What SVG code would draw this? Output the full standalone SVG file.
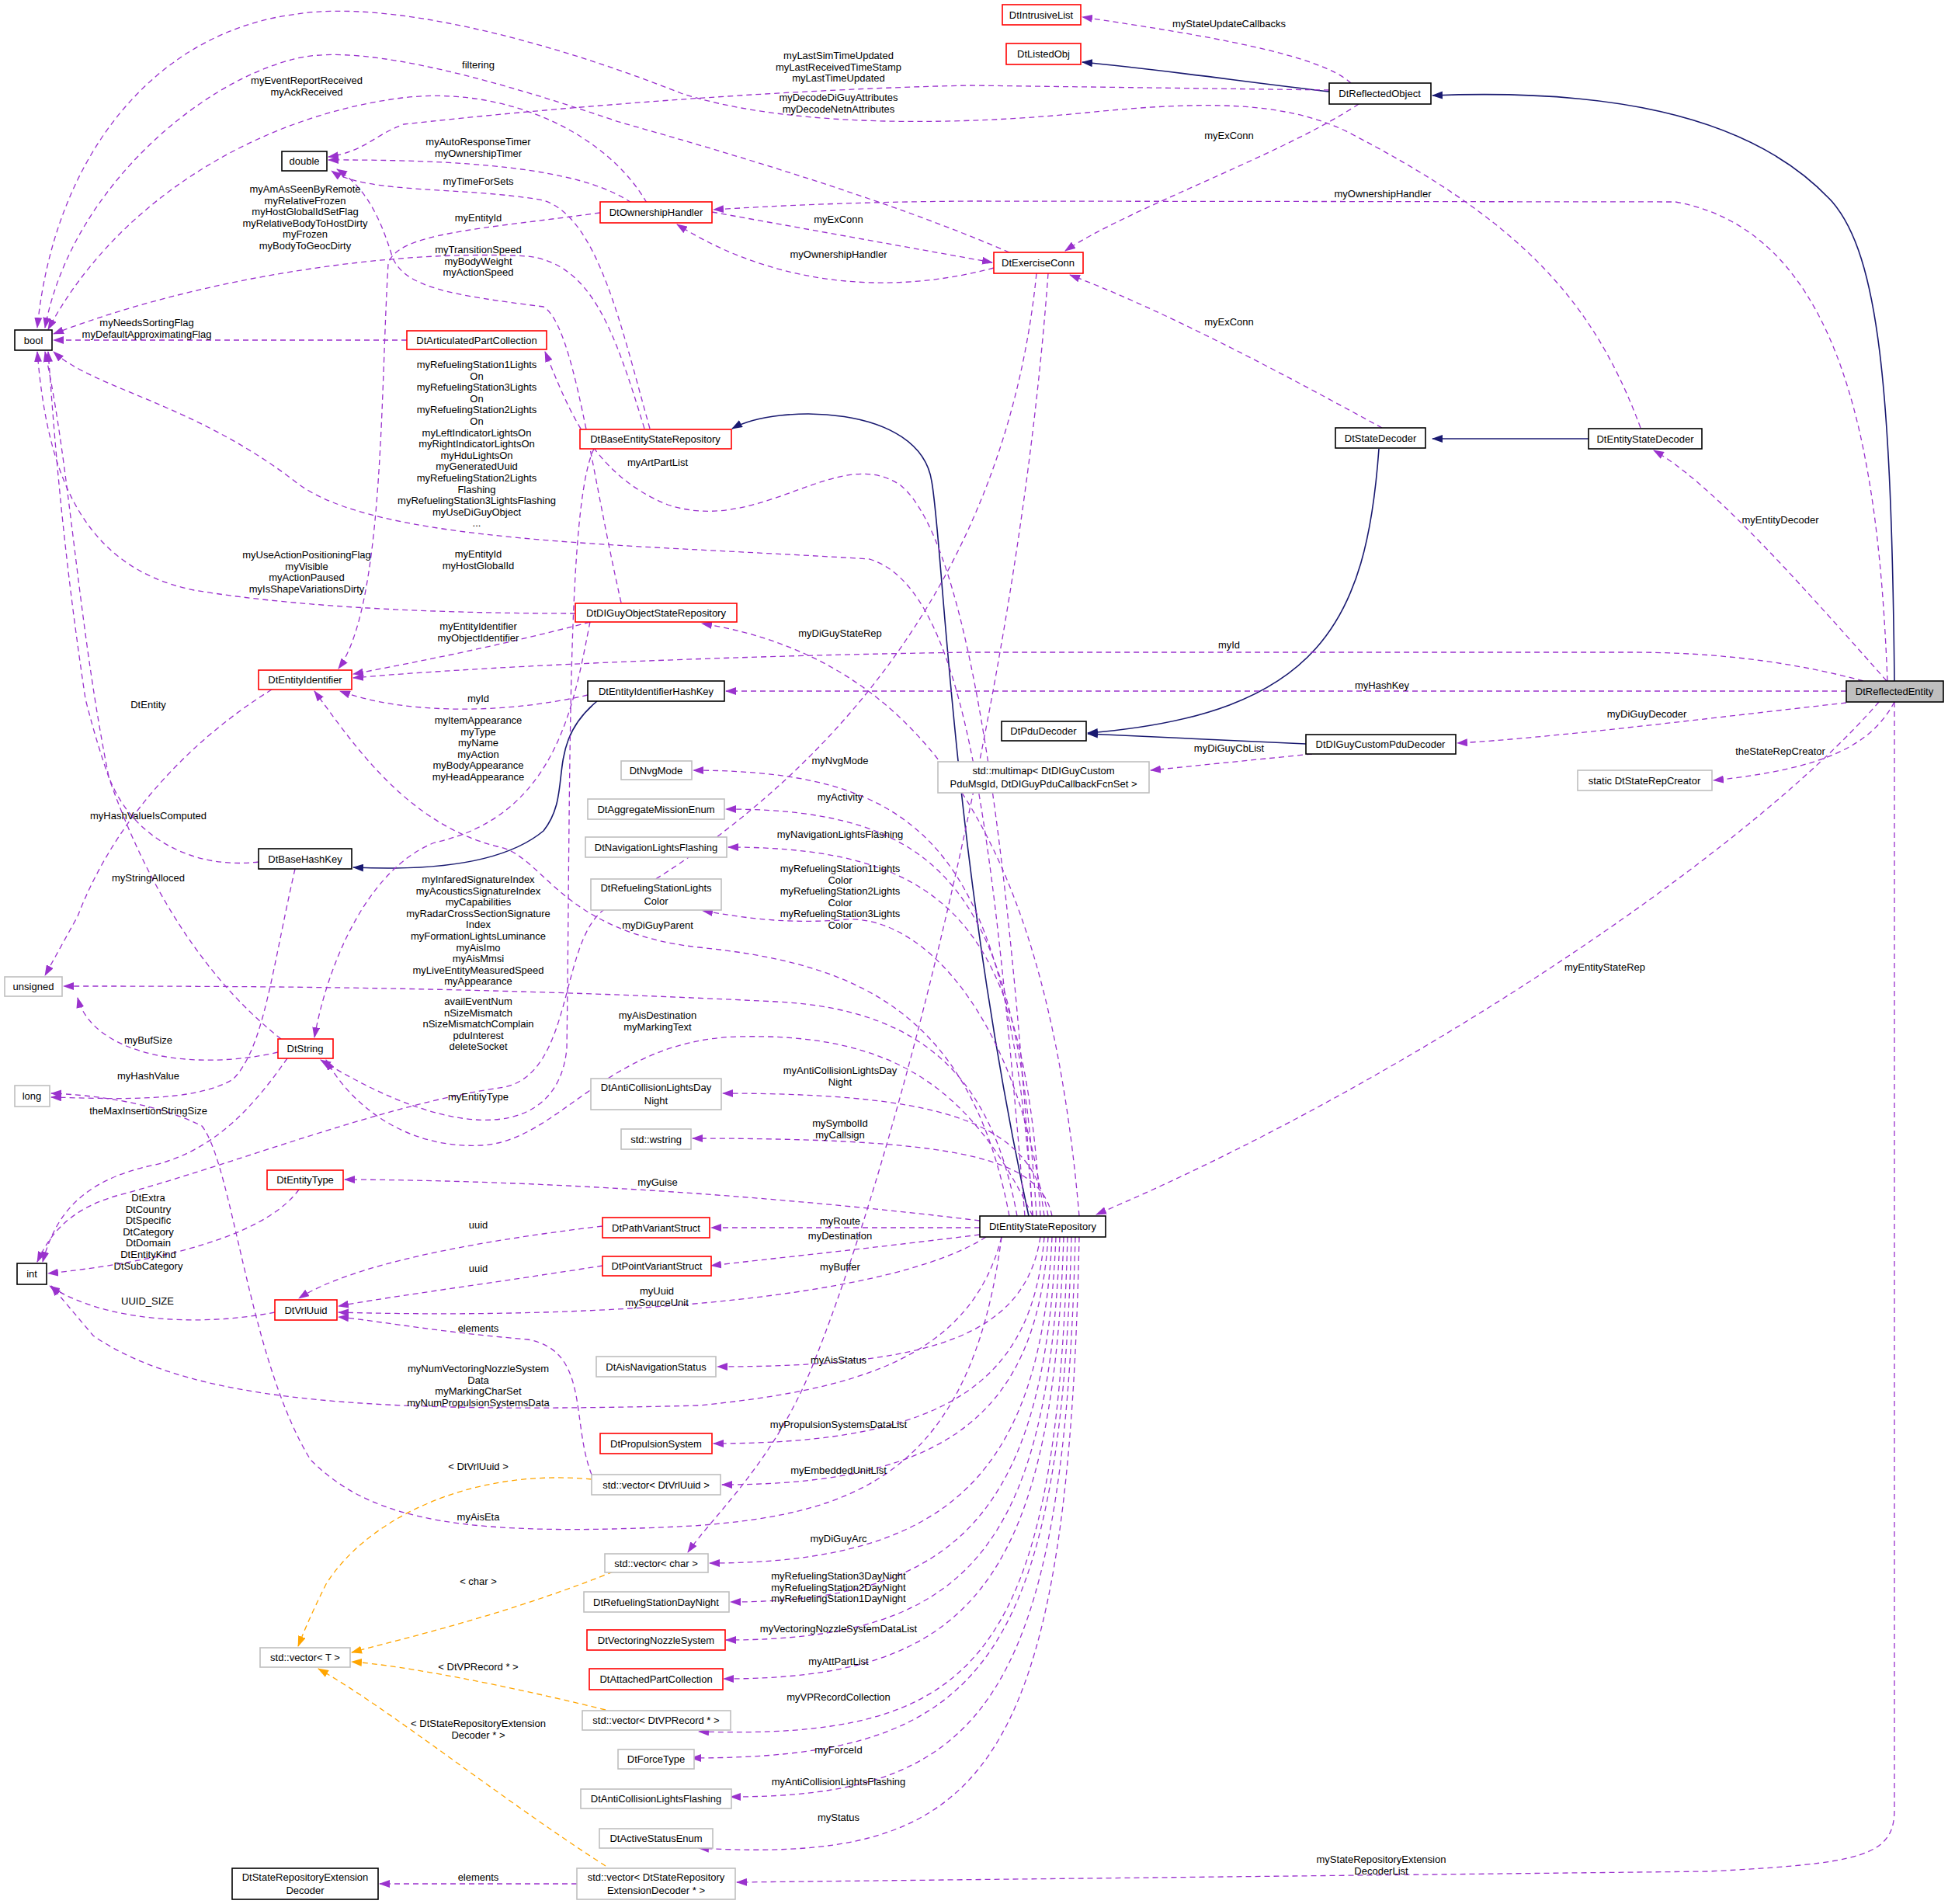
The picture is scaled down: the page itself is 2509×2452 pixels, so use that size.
<svg xmlns="http://www.w3.org/2000/svg" width="2509" height="2452" viewBox="0 0 2509 2452">
<style>
text{font-family:"Liberation Sans",Arial,sans-serif;font-size:13px;fill:#000}
.n text{text-anchor:middle}
.l{text-anchor:middle}
rect{fill:#fff;stroke-width:1.6}
.k rect{stroke:#000}
.r rect{stroke:#f00}
.g rect{stroke:#bfbfbf}
.e rect{stroke:#000;fill:#bfbfbf}
.p{fill:none;stroke:#9a32cd;stroke-width:1.3;stroke-dasharray:7,5;marker-end:url(#mp)}
.o{fill:none;stroke:#ffa500;stroke-width:1.3;stroke-dasharray:7,5;marker-end:url(#mo)}
.b{fill:none;stroke:#191970;stroke-width:1.6;marker-end:url(#mb)}
</style>
<defs>
<marker id="mp" markerWidth="14" markerHeight="10" refX="13" refY="5" orient="auto" markerUnits="userSpaceOnUse"><path d="M0,0 L14,5 L0,10 z" fill="#9a32cd"/></marker>
<marker id="mo" markerWidth="14" markerHeight="10" refX="13" refY="5" orient="auto" markerUnits="userSpaceOnUse"><path d="M0,0 L14,5 L0,10 z" fill="#ffa500"/></marker>
<marker id="mb" markerWidth="14" markerHeight="10" refX="13" refY="5" orient="auto" markerUnits="userSpaceOnUse"><path d="M0,0 L14,5 L0,10 z" fill="#191970"/></marker>
</defs>
<rect x="0" y="0" width="2509" height="2452" style="fill:#fff;stroke:none"/>
<g id="edges">
<path class="b" d="M2440,877 C2436,500 2420,330 2360,260 C2250,140 2050,115 1845,123"/>
<path class="b" d="M1712,118 C1600,105 1500,90 1394,80"/>
<path class="b" d="M2046,565 L1845,565"/>
<path class="b" d="M1776,578 C1760,800 1700,920 1401,944"/>
<path class="b" d="M1682,958 L1401,945"/>
<path class="b" d="M1325,1566 C1225,1100 1215,700 1200,620 C1185,520 1000,520 943,552"/>
<path class="b" d="M769,903 C700,960 740,1020 700,1070 C640,1120 520,1120 455,1117"/>
<path class="o" d="M762,1905 C600,1890 470,1960 420,2040 C400,2080 392,2100 384,2120"/>
<path class="o" d="M790,2024 C650,2080 520,2110 453,2128"/>
<path class="o" d="M780,2202 C650,2170 520,2145 453,2140"/>
<path class="o" d="M780,2403 C650,2320 500,2200 410,2149"/>
<path class="p" d="M1740,107 C1700,70 1550,45 1394,22"/>
<path class="p" d="M1750,134 C1650,200 1450,270 1372,323"/>
<path class="p" d="M1712,116 L1250,110 C1000,115 700,140 520,160 C480,175 470,195 423,202"/>
<path class="p" d="M2113,551 C2050,380 1950,280 1732,168 C1650,130 1550,130 1400,145 C1200,165 1000,160 877,120 C700,50 500,0 383,18 C200,40 70,200 48,422"/>
<path class="p" d="M1300,325 C1150,260 950,200 797,157 C600,90 450,55 375,77 C250,110 90,250 58,422"/>
<path class="p" d="M833,261 C780,170 650,110 518,126 C330,150 150,260 62,424"/>
<path class="p" d="M813,261 C760,225 650,205 423,206"/>
<path class="p" d="M837,552 C800,420 770,280 700,258 C600,240 470,250 427,220"/>
<path class="p" d="M800,776 C760,600 740,420 700,395 C580,380 520,370 505,330 C490,280 470,240 434,218"/>
<path class="p" d="M917,273 L1278,338"/>
<path class="p" d="M1280,345 C1150,380 1000,370 872,289"/>
<path class="p" d="M773,274 C620,295 510,300 500,340 C490,500 495,780 436,861"/>
<path class="p" d="M830,552 C790,420 760,340 680,330 C500,320 250,360 69,430"/>
<path class="p" d="M524,438 L69,438"/>
<path class="p" d="M1330,1566 C1300,1100 1250,700 1160,625 C1080,570 980,690 860,650 C760,610 730,520 702,453"/>
<path class="p" d="M1320,1566 C1280,1100 1250,760 1120,720 C800,700 480,700 380,620 C250,520 120,500 69,453"/>
<path class="p" d="M741,790 C600,790 400,785 250,760 C100,730 60,600 48,453"/>
<path class="p" d="M760,801 C650,830 550,850 455,868"/>
<path class="p" d="M757,895 C650,920 520,920 438,890"/>
<path class="p" d="M2400,877 C2300,850 2200,840 2100,840 L1250,840 C900,845 600,860 455,873"/>
<path class="p" d="M2378,890 L935,890"/>
<path class="p" d="M2378,905 C2200,925 2000,950 1877,957"/>
<path class="p" d="M1690,971 C1600,980 1550,985 1482,992"/>
<path class="p" d="M2440,904 C2410,960 2350,990 2207,1005"/>
<path class="p" d="M2430,877 C2300,730 2200,620 2130,580"/>
<path class="p" d="M2431,877 C2420,600 2380,300 2158,260 L1250,259 C1100,260 1000,265 919,270"/>
<path class="p" d="M2420,904 C2250,1100 1800,1400 1412,1564"/>
<path class="p" d="M2440,904 L2440,2330 C2440,2390 2400,2400 2200,2410 L949,2424"/>
<path class="p" d="M1780,551 C1650,480 1500,400 1378,354"/>
<path class="p" d="M1335,352 C1290,800 1000,1050 780,1170 C720,1210 740,1380 650,1400 C500,1420 300,1500 150,1540 C80,1560 60,1600 48,1625"/>
<path class="p" d="M1350,352 C1310,900 1150,1500 1050,1750 C1000,1880 920,1950 886,1999"/>
<path class="p" d="M350,888 C250,950 150,1050 100,1180 L58,1256"/>
<path class="p" d="M333,1110 C250,1120 170,1080 140,1000 C100,800 90,600 58,453"/>
<path class="p" d="M380,1119 C350,1250 340,1350 300,1390 C250,1420 150,1415 66,1413"/>
<path class="p" d="M362,1338 C250,1250 160,1100 110,900 C80,700 70,560 62,453"/>
<path class="p" d="M358,1355 C250,1380 120,1360 100,1285"/>
<path class="p" d="M370,1363 C330,1420 280,1480 200,1500 C100,1520 70,1570 55,1625"/>
<path class="p" d="M385,1532 C350,1580 250,1620 62,1640"/>
<path class="p" d="M354,1690 C250,1710 130,1700 64,1656"/>
<path class="p" d="M776,1579 C600,1600 450,1630 385,1672"/>
<path class="p" d="M776,1630 C650,1650 500,1670 436,1682"/>
<path class="p" d="M762,1899 C735,1830 760,1740 680,1725 C560,1715 480,1700 436,1696"/>
<path class="p" d="M743,2426 L489,2426"/>
<path class="p" d="M1290,1593 C1250,1750 1100,1790 900,1810 C500,1820 250,1810 120,1720 L66,1656"/>
<path class="p" d="M1270,1593 C1150,1670 800,1700 436,1690"/>
<path class="p" d="M1310,1566 C1280,1400 1200,1300 1000,1290 C600,1270 300,1270 82,1270"/>
<path class="p" d="M1390,1566 C1350,1100 1200,850 904,803"/>
<path class="p" d="M1300,1566 C1250,1300 1100,1240 900,1220 C720,1200 700,1100 640,1090 C520,1060 450,950 405,890"/>
<path class="p" d="M765,578 C730,650 735,1000 730,1350 C720,1460 600,1480 413,1365"/>
<path class="p" d="M760,801 C740,900 720,1050 560,1085 C470,1120 420,1250 405,1336"/>
<path class="p" d="M1330,1566 C1250,1400 1150,1330 950,1335 C780,1340 720,1470 620,1475 C520,1480 450,1420 420,1365"/>
<path class="p" d="M1262,1572 C1000,1540 700,1520 444,1519"/>
<path class="p" d="M1290,1593 C1250,1900 1100,1950 893,1965 C600,1980 480,1960 400,1880 C320,1750 300,1500 260,1450 C200,1420 120,1410 66,1408"/>
<path class="p" d="M1330,1566 C1300,1100 1200,993 893,992"/>
<path class="p" d="M1335,1566 C1310,1150 1220,1042 935,1042"/>
<path class="p" d="M1340,1566 C1320,1200 1230,1091 938,1091"/>
<path class="p" d="M1345,1566 C1310,1300 1180,1170 1080,1185 C1000,1190 950,1180 905,1173"/>
<path class="p" d="M1350,1566 C1330,1450 1230,1408 931,1408"/>
<path class="p" d="M1355,1566 C1340,1490 1230,1466 892,1466"/>
<path class="p" d="M1262,1581 L916,1581"/>
<path class="p" d="M1262,1590 C1100,1610 1000,1620 916,1630"/>
<path class="p" d="M1340,1593 C1320,1720 1200,1760 924,1760"/>
<path class="p" d="M1345,1593 C1330,1780 1220,1859 919,1859"/>
<path class="p" d="M1350,1593 C1335,1820 1220,1912 930,1912"/>
<path class="p" d="M1355,1593 C1340,1900 1220,2013 914,2013"/>
<path class="p" d="M1360,1593 C1345,1950 1230,2063 941,2063"/>
<path class="p" d="M1365,1593 C1350,2000 1240,2112 935,2112"/>
<path class="p" d="M1370,1593 C1355,2050 1240,2162 932,2162"/>
<path class="p" d="M1375,1593 C1360,2150 1250,2240 900,2230"/>
<path class="p" d="M1380,1593 C1365,2160 1250,2264 890,2264"/>
<path class="p" d="M1385,1593 C1370,2200 1260,2314 941,2314"/>
<path class="p" d="M1390,1593 C1375,2300 1260,2400 900,2380"/>
</g>
<g id="labels">
<text class="l" x="1583" y="35">myStateUpdateCallbacks</text>
<text class="l" x="1583" y="179">myExConn</text>
<text class="l" x="1781" y="254">myOwnershipHandler</text>
<text class="l" x="1583" y="419">myExConn</text>
<text class="l" x="2293" y="674">myEntityDecoder</text>
<text class="l" x="1583" y="835">myId</text>
<text class="l" x="1780" y="887">myHashKey</text>
<text class="l" x="2121" y="924">myDiGuyDecoder</text>
<text class="l" x="1583" y="968">myDiGuyCbList</text>
<text class="l" x="2293" y="972">theStateRepCreator</text>
<text class="l" x="2067" y="1250">myEntityStateRep</text>
<text class="l" x="1779" y="2399">myStateRepositoryExtension<tspan x="1779" dy="14.6">DecoderList</tspan></text>
<text class="l" x="616" y="88">filtering</text>
<text class="l" x="395" y="108">myEventReportReceived<tspan x="395" dy="14.6">myAckReceived</tspan></text>
<text class="l" x="1080" y="76">myLastSimTimeUpdated<tspan x="1080" dy="14.6">myLastReceivedTimeStamp</tspan><tspan x="1080" dy="14.6">myLastTimeUpdated</tspan></text>
<text class="l" x="1080" y="130">myDecodeDiGuyAttributes<tspan x="1080" dy="14.6">myDecodeNetnAttributes</tspan></text>
<text class="l" x="616" y="187">myAutoResponseTimer<tspan x="616" dy="14.6">myOwnershipTimer</tspan></text>
<text class="l" x="616" y="238">myTimeForSets</text>
<text class="l" x="393" y="248">myAmAsSeenByRemote<tspan x="393" dy="14.6">myRelativeFrozen</tspan><tspan x="393" dy="14.6">myHostGlobalIdSetFlag</tspan><tspan x="393" dy="14.6">myRelativeBodyToHostDirty</tspan><tspan x="393" dy="14.6">myFrozen</tspan><tspan x="393" dy="14.6">myBodyToGeocDirty</tspan></text>
<text class="l" x="616" y="285">myEntityId</text>
<text class="l" x="1080" y="287">myExConn</text>
<text class="l" x="616" y="326">myTransitionSpeed<tspan x="616" dy="14.6">myBodyWeight</tspan><tspan x="616" dy="14.6">myActionSpeed</tspan></text>
<text class="l" x="1080" y="332">myOwnershipHandler</text>
<text class="l" x="189" y="420">myNeedsSortingFlag<tspan x="189" dy="14.6">myDefaultApproximatingFlag</tspan></text>
<text class="l" x="614" y="474">myRefuelingStation1Lights<tspan x="614" dy="14.6">On</tspan><tspan x="614" dy="14.6">myRefuelingStation3Lights</tspan><tspan x="614" dy="14.6">On</tspan><tspan x="614" dy="14.6">myRefuelingStation2Lights</tspan><tspan x="614" dy="14.6">On</tspan><tspan x="614" dy="14.6">myLeftIndicatorLightsOn</tspan><tspan x="614" dy="14.6">myRightIndicatorLightsOn</tspan><tspan x="614" dy="14.6">myHduLightsOn</tspan><tspan x="614" dy="14.6">myGeneratedUuid</tspan><tspan x="614" dy="14.6">myRefuelingStation2Lights</tspan><tspan x="614" dy="14.6">Flashing</tspan><tspan x="614" dy="14.6">myRefuelingStation3LightsFlashing</tspan><tspan x="614" dy="14.6">myUseDiGuyObject</tspan><tspan x="614" dy="14.6">...</tspan></text>
<text class="l" x="847" y="600">myArtPartList</text>
<text class="l" x="395" y="719">myUseActionPositioningFlag<tspan x="395" dy="14.6">myVisible</tspan><tspan x="395" dy="14.6">myActionPaused</tspan><tspan x="395" dy="14.6">myIsShapeVariationsDirty</tspan></text>
<text class="l" x="616" y="718">myEntityId<tspan x="616" dy="14.6">myHostGlobalId</tspan></text>
<text class="l" x="1082" y="820">myDiGuyStateRep</text>
<text class="l" x="616" y="811">myEntityIdentifier<tspan x="616" dy="14.6">myObjectIdentifier</tspan></text>
<text class="l" x="191" y="912">DtEntity</text>
<text class="l" x="616" y="904">myId</text>
<text class="l" x="616" y="932">myItemAppearance<tspan x="616" dy="14.6">myType</tspan><tspan x="616" dy="14.6">myName</tspan><tspan x="616" dy="14.6">myAction</tspan><tspan x="616" dy="14.6">myBodyAppearance</tspan><tspan x="616" dy="14.6">myHeadAppearance</tspan></text>
<text class="l" x="191" y="1055">myHashValueIsComputed</text>
<text class="l" x="191" y="1135">myStringAlloced</text>
<text class="l" x="616" y="1137">myInfaredSignatureIndex<tspan x="616" dy="14.6">myAcousticsSignatureIndex</tspan><tspan x="616" dy="14.6">myCapabilities</tspan><tspan x="616" dy="14.6">myRadarCrossSectionSignature</tspan><tspan x="616" dy="14.6">Index</tspan><tspan x="616" dy="14.6">myFormationLightsLuminance</tspan><tspan x="616" dy="14.6">myAisImo</tspan><tspan x="616" dy="14.6">myAisMmsi</tspan><tspan x="616" dy="14.6">myLiveEntityMeasuredSpeed</tspan><tspan x="616" dy="14.6">myAppearance</tspan></text>
<text class="l" x="616" y="1294">availEventNum<tspan x="616" dy="14.6">nSizeMismatch</tspan><tspan x="616" dy="14.6">nSizeMismatchComplain</tspan><tspan x="616" dy="14.6">pduInterest</tspan><tspan x="616" dy="14.6">deleteSocket</tspan></text>
<text class="l" x="847" y="1312">myAisDestination<tspan x="847" dy="14.6">myMarkingText</tspan></text>
<text class="l" x="191" y="1344">myBufSize</text>
<text class="l" x="191" y="1390">myHashValue</text>
<text class="l" x="191" y="1435">theMaxInsertionStringSize</text>
<text class="l" x="616" y="1417">myEntityType</text>
<text class="l" x="1082" y="984">myNvgMode</text>
<text class="l" x="1082" y="1031">myActivity</text>
<text class="l" x="1082" y="1079">myNavigationLightsFlashing</text>
<text class="l" x="1082" y="1123">myRefuelingStation1Lights<tspan x="1082" dy="14.6">Color</tspan><tspan x="1082" dy="14.6">myRefuelingStation2Lights</tspan><tspan x="1082" dy="14.6">Color</tspan><tspan x="1082" dy="14.6">myRefuelingStation3Lights</tspan><tspan x="1082" dy="14.6">Color</tspan></text>
<text class="l" x="847" y="1196">myDiGuyParent</text>
<text class="l" x="1082" y="1383">myAntiCollisionLightsDay<tspan x="1082" dy="14.6">Night</tspan></text>
<text class="l" x="1082" y="1451">mySymbolId<tspan x="1082" dy="14.6">myCallsign</tspan></text>
<text class="l" x="847" y="1527">myGuise</text>
<text class="l" x="191" y="1547">DtExtra<tspan x="191" dy="14.6">DtCountry</tspan><tspan x="191" dy="14.6">DtSpecific</tspan><tspan x="191" dy="14.6">DtCategory</tspan><tspan x="191" dy="14.6">DtDomain</tspan><tspan x="191" dy="14.6">DtEntityKind</tspan><tspan x="191" dy="14.6">DtSubCategory</tspan></text>
<text class="l" x="616" y="1582">uuid</text>
<text class="l" x="616" y="1638">uuid</text>
<text class="l" x="1082" y="1577">myRoute</text>
<text class="l" x="1082" y="1596">myDestination</text>
<text class="l" x="1082" y="1636">myBuffer</text>
<text class="l" x="846" y="1667">myUuid<tspan x="846" dy="14.6">mySourceUnit</tspan></text>
<text class="l" x="190" y="1680">UUID_SIZE</text>
<text class="l" x="616" y="1715">elements</text>
<text class="l" x="1080" y="1756">myAisStatus</text>
<text class="l" x="616" y="1767">myNumVectoringNozzleSystem<tspan x="616" dy="14.6">Data</tspan><tspan x="616" dy="14.6">myMarkingCharSet</tspan><tspan x="616" dy="14.6">myNumPropulsionSystemsData</tspan></text>
<text class="l" x="1080" y="1839">myPropulsionSystemsDataList</text>
<text class="l" x="616" y="1893">&lt; DtVrlUuid &gt;</text>
<text class="l" x="1080" y="1898">myEmbeddedUnitList</text>
<text class="l" x="616" y="1958">myAisEta</text>
<text class="l" x="1080" y="1986">myDiGuyArc</text>
<text class="l" x="616" y="2041">&lt; char &gt;</text>
<text class="l" x="1080" y="2034">myRefuelingStation3DayNight<tspan x="1080" dy="14.6">myRefuelingStation2DayNight</tspan><tspan x="1080" dy="14.6">myRefuelingStation1DayNight</tspan></text>
<text class="l" x="1080" y="2102">myVectoringNozzleSystemDataList</text>
<text class="l" x="1080" y="2144">myAttPartList</text>
<text class="l" x="616" y="2151">&lt; DtVPRecord * &gt;</text>
<text class="l" x="1080" y="2190">myVPRecordCollection</text>
<text class="l" x="616" y="2224">&lt; DtStateRepositoryExtension<tspan x="616" dy="14.6">Decoder * &gt;</tspan></text>
<text class="l" x="1080" y="2258">myForceId</text>
<text class="l" x="1080" y="2299">myAntiCollisionLightsFlashing</text>
<text class="l" x="1080" y="2345">myStatus</text>
<text class="l" x="616" y="2422">elements</text>
</g>
<g id="DtIntrusiveList" class="n r"><rect x="1291" y="6" width="101" height="26"/><text x="1341" y="24">DtIntrusiveList</text></g>
<g id="DtListedObj" class="n r"><rect x="1296" y="56" width="96" height="27"/><text x="1344" y="74">DtListedObj</text></g>
<g id="DtReflectedObject" class="n k"><rect x="1712" y="107" width="131" height="27"/><text x="1777" y="125">DtReflectedObject</text></g>
<g id="double" class="n k"><rect x="363" y="195" width="58" height="25"/><text x="392" y="212">double</text></g>
<g id="DtOwnershipHandler" class="n r"><rect x="773" y="260" width="144" height="27"/><text x="845" y="278">DtOwnershipHandler</text></g>
<g id="DtExerciseConn" class="n r"><rect x="1280" y="325" width="115" height="27"/><text x="1337" y="343">DtExerciseConn</text></g>
<g id="bool" class="n k"><rect x="19" y="425" width="48" height="26"/><text x="43" y="443">bool</text></g>
<g id="DtArticulatedPartCollection" class="n r"><rect x="524" y="426" width="180" height="24"/><text x="614" y="443">DtArticulatedPartCollection</text></g>
<g id="DtBaseEntityStateRepository" class="n r"><rect x="747" y="553" width="195" height="25"/><text x="844" y="570">DtBaseEntityStateRepository</text></g>
<g id="DtStateDecoder" class="n k"><rect x="1720" y="551" width="116" height="26"/><text x="1778" y="569">DtStateDecoder</text></g>
<g id="DtEntityStateDecoder" class="n k"><rect x="2046" y="552" width="146" height="26"/><text x="2119" y="570">DtEntityStateDecoder</text></g>
<g id="DtDIGuyObjectStateRepository" class="n r"><rect x="741" y="777" width="208" height="24"/><text x="845" y="794">DtDIGuyObjectStateRepository</text></g>
<g id="DtEntityIdentifier" class="n r"><rect x="333" y="863" width="120" height="25"/><text x="393" y="880">DtEntityIdentifier</text></g>
<g id="DtEntityIdentifierHashKey" class="n k"><rect x="757" y="877" width="176" height="26"/><text x="845" y="895">DtEntityIdentifierHashKey</text></g>
<g id="DtReflectedEntity" class="n e"><rect x="2378" y="877" width="125" height="27"/><text x="2440" y="895">DtReflectedEntity</text></g>
<g id="DtPduDecoder" class="n k"><rect x="1290" y="929" width="109" height="25"/><text x="1344" y="946">DtPduDecoder</text></g>
<g id="DtDIGuyCustomPduDecoder" class="n k"><rect x="1682" y="946" width="193" height="25"/><text x="1778" y="963">DtDIGuyCustomPduDecoder</text></g>
<g id="multimap" class="n g"><rect x="1208" y="981" width="272" height="40"/><text x="1344" y="997">std::multimap&lt; DtDIGuyCustom</text><text x="1344" y="1014">PduMsgId, DtDIGuyPduCallbackFcnSet &gt;</text></g>
<g id="DtNvgMode" class="n g"><rect x="800" y="980" width="91" height="24"/><text x="845" y="997">DtNvgMode</text></g>
<g id="DtStateRepCreator" class="n g"><rect x="2032" y="992" width="173" height="26"/><text x="2118" y="1010">static DtStateRepCreator</text></g>
<g id="DtAggregateMissionEnum" class="n g"><rect x="757" y="1029" width="176" height="26"/><text x="845" y="1047">DtAggregateMissionEnum</text></g>
<g id="DtNavigationLightsFlashing" class="n g"><rect x="754" y="1078" width="182" height="26"/><text x="845" y="1096">DtNavigationLightsFlashing</text></g>
<g id="DtBaseHashKey" class="n k"><rect x="333" y="1093" width="120" height="26"/><text x="393" y="1111">DtBaseHashKey</text></g>
<g id="DtRefuelingStationLightsColor" class="n g"><rect x="761" y="1132" width="168" height="40"/><text x="845" y="1148">DtRefuelingStationLights</text><text x="845" y="1165">Color</text></g>
<g id="unsigned" class="n g"><rect x="6" y="1258" width="74" height="25"/><text x="43" y="1275">unsigned</text></g>
<g id="DtString" class="n r"><rect x="358" y="1338" width="71" height="25"/><text x="393" y="1355">DtString</text></g>
<g id="long" class="n g"><rect x="19" y="1398" width="45" height="27"/><text x="41" y="1416">long</text></g>
<g id="DtAntiCollisionLightsDayNight" class="n g"><rect x="761" y="1389" width="168" height="40"/><text x="845" y="1405">DtAntiCollisionLightsDay</text><text x="845" y="1422">Night</text></g>
<g id="wstring" class="n g"><rect x="800" y="1454" width="90" height="26"/><text x="845" y="1472">std::wstring</text></g>
<g id="DtEntityType" class="n r"><rect x="344" y="1507" width="98" height="25"/><text x="393" y="1524">DtEntityType</text></g>
<g id="DtEntityStateRepository" class="n k"><rect x="1262" y="1566" width="162" height="27"/><text x="1343" y="1584">DtEntityStateRepository</text></g>
<g id="DtPathVariantStruct" class="n r"><rect x="776" y="1568" width="138" height="26"/><text x="845" y="1586">DtPathVariantStruct</text></g>
<g id="int" class="n k"><rect x="22" y="1627" width="38" height="27"/><text x="41" y="1645">int</text></g>
<g id="DtPointVariantStruct" class="n r"><rect x="776" y="1618" width="140" height="25"/><text x="846" y="1635">DtPointVariantStruct</text></g>
<g id="DtVrlUuid" class="n r"><rect x="354" y="1674" width="80" height="26"/><text x="394" y="1692">DtVrlUuid</text></g>
<g id="DtAisNavigationStatus" class="n g"><rect x="768" y="1747" width="154" height="26"/><text x="845" y="1765">DtAisNavigationStatus</text></g>
<g id="DtPropulsionSystem" class="n r"><rect x="773" y="1846" width="144" height="26"/><text x="845" y="1864">DtPropulsionSystem</text></g>
<g id="vecVrlUuid" class="n g"><rect x="762" y="1899" width="166" height="26"/><text x="845" y="1917">std::vector&lt; DtVrlUuid &gt;</text></g>
<g id="vecChar" class="n g"><rect x="779" y="2001" width="133" height="24"/><text x="845" y="2018">std::vector&lt; char &gt;</text></g>
<g id="DtRefuelingStationDayNight" class="n g"><rect x="752" y="2050" width="187" height="26"/><text x="845" y="2068">DtRefuelingStationDayNight</text></g>
<g id="vecT" class="n g"><rect x="335" y="2122" width="116" height="25"/><text x="393" y="2139">std::vector&lt; T &gt;</text></g>
<g id="DtVectoringNozzleSystem" class="n r"><rect x="756" y="2099" width="178" height="26"/><text x="845" y="2117">DtVectoringNozzleSystem</text></g>
<g id="DtAttachedPartCollection" class="n r"><rect x="759" y="2149" width="172" height="27"/><text x="845" y="2167">DtAttachedPartCollection</text></g>
<g id="vecVPRecord" class="n g"><rect x="750" y="2203" width="191" height="25"/><text x="845" y="2220">std::vector&lt; DtVPRecord * &gt;</text></g>
<g id="DtForceType" class="n g"><rect x="796" y="2253" width="98" height="25"/><text x="845" y="2270">DtForceType</text></g>
<g id="DtAntiCollisionLightsFlashing" class="n g"><rect x="748" y="2304" width="194" height="25"/><text x="845" y="2321">DtAntiCollisionLightsFlashing</text></g>
<g id="DtActiveStatusEnum" class="n g"><rect x="772" y="2355" width="146" height="25"/><text x="845" y="2372">DtActiveStatusEnum</text></g>
<g id="DtStateRepositoryExtensionDecoder" class="n k"><rect x="299" y="2406" width="188" height="40"/><text x="393" y="2422">DtStateRepositoryExtension</text><text x="393" y="2439">Decoder</text></g>
<g id="vecExt" class="n g"><rect x="743" y="2406" width="204" height="40"/><text x="845" y="2422">std::vector&lt; DtStateRepository</text><text x="845" y="2439">ExtensionDecoder * &gt;</text></g>
</svg>
